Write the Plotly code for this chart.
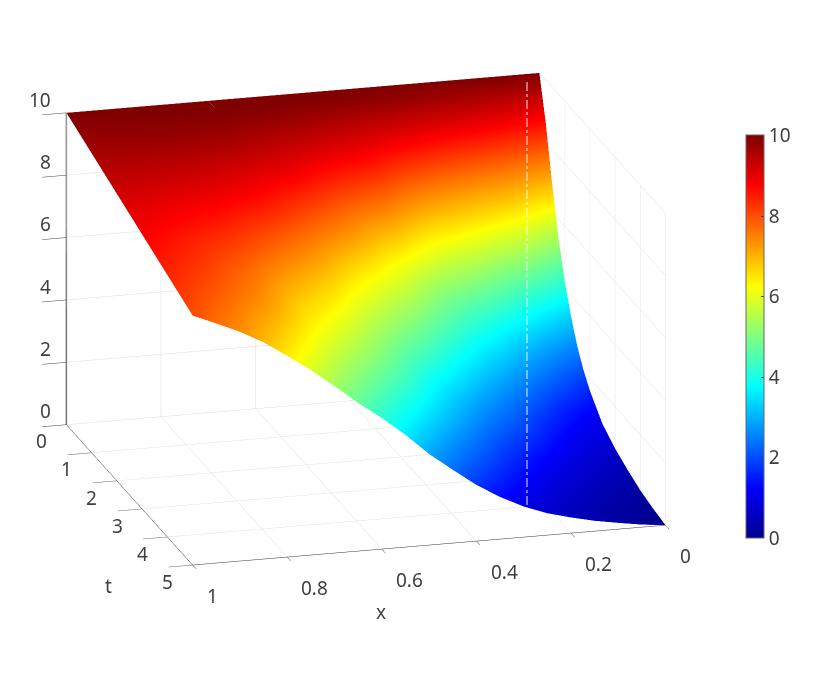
import plotly.graph_objects as go

t_vals = [0, 0.25, 0.5, 0.75, 1, 1.25, 1.5, 1.75, 2, 2.5, 3, 3.5, 4, 4.5, 5]
x_vals = [0, 0.05, 0.1, 0.15, 0.2, 0.25, 0.3, 0.35, 0.4, 0.45, 0.5, 0.55, 0.6, 0.65,
          0.7, 0.75, 0.8, 0.85, 0.9, 0.95, 1]

# u(t) at each x
u_x000 = [10, 8.65, 6.95, 5.45, 4.25, 3.35, 2.6, 2.05, 1.62, 1.0, 0.66, 0.42, 0.22, 0.09, 0]
u_x005 = [10, 9.0, 7.6, 6.3, 5.15, 4.15, 3.25, 2.62, 2.1, 1.35, 0.92, 0.62, 0.37, 0.2, 0.08]
u_x010 = [10, 9.3, 8.2, 7.05, 6.0, 4.95, 3.95, 3.25, 2.7, 1.8, 1.25, 0.85, 0.55, 0.33, 0.2]
u_x015 = [10, 9.45, 8.5, 7.4, 6.45, 5.5, 4.65, 3.95, 3.3, 2.4, 1.72, 1.25, 0.8, 0.5, 0.33]
u_x020 = [10, 9.6, 8.75, 7.7, 6.85, 6.05, 5.3, 4.6, 3.95, 3.05, 2.25, 1.7, 1.1, 0.72, 0.5]
u_x025 = [10, 9.7, 9.0, 8.1, 7.25, 6.45, 5.7, 5.05, 4.45, 3.55, 2.8, 2.15, 1.55, 1.1, 0.7]
u_x030 = [10, 9.8, 9.2, 8.5, 7.6, 6.85, 6.1, 5.5, 4.95, 4.15, 3.35, 2.65, 2.0, 1.5, 0.98]
u_x035 = [10, 9.85, 9.35, 8.8, 8.1, 7.4, 6.75, 6.15, 5.55, 4.75, 3.95, 3.2, 2.55, 1.95, 1.35]
u_x040 = [10, 9.9, 9.5, 9.05, 8.6, 8.0, 7.4, 6.75, 6.15, 5.35, 4.6, 3.75, 3.15, 2.45, 1.8]
u_x045 = [10, 9.93, 9.6, 9.25, 8.85, 8.3, 7.75, 7.2, 6.7, 5.8, 5.1, 4.35, 3.75, 3.05, 2.35]
u_x050 = [10, 9.96, 9.7, 9.4, 9.05, 8.6, 8.1, 7.65, 7.25, 6.3, 5.6, 4.95, 4.4, 3.65, 2.92]
u_x055 = [10, 9.97, 9.78, 9.5, 9.2, 8.85, 8.45, 8.05, 7.65, 6.8, 6.1, 5.5, 4.92, 4.25, 3.6]
u_x060 = [10, 9.98, 9.85, 9.6, 9.35, 9.1, 8.8, 8.4, 8.0, 7.3, 6.65, 6.05, 5.45, 4.8, 4.2]
u_x065 = [10, 9.99, 9.88, 9.68, 9.48, 9.22, 8.95, 8.65, 8.35, 7.65, 7.0, 6.45, 5.95, 5.35, 4.75]
u_x070 = [10, 10, 9.9, 9.75, 9.6, 9.35, 9.1, 8.88, 8.65, 8.0, 7.4, 6.8, 6.4, 5.9, 5.35]
u_x075 = [10, 9.99, 9.9, 9.78, 9.63, 9.42, 9.2, 9.0, 8.78, 8.25, 7.75, 7.25, 6.9, 6.4, 5.93]
u_x080 = [10, 9.98, 9.9, 9.8, 9.65, 9.48, 9.3, 9.1, 8.9, 8.5, 8.05, 7.65, 7.35, 6.9, 6.45]
u_x085 = [10, 9.97, 9.89, 9.79, 9.67, 9.51, 9.35, 9.17, 8.98, 8.62, 8.25, 7.92, 7.65, 7.28, 6.95]
u_x090 = [10, 9.95, 9.88, 9.78, 9.68, 9.53, 9.38, 9.22, 9.05, 8.75, 8.45, 8.2, 7.95, 7.65, 7.35]
u_x095 = [10, 9.93, 9.85, 9.75, 9.65, 9.53, 9.4, 9.26, 9.12, 8.88, 8.62, 8.4, 8.18, 7.92, 7.68]
u_x100 = [10, 9.9, 9.8, 9.7, 9.6, 9.5, 9.4, 9.3, 9.2, 9.0, 8.8, 8.6, 8.4, 8.2, 8.0]

u_by_x = [u_x000, u_x005, u_x010, u_x015, u_x020, u_x025, u_x030, u_x035, u_x040, u_x045,
          u_x050, u_x055, u_x060, u_x065, u_x070, u_x075, u_x080, u_x085, u_x090, u_x095, u_x100]
z_vals = [list(row) for row in zip(*u_by_x)]

x_ticks = [0, 0.2, 0.4, 0.6, 0.8, 1]
t_ticks = [0, 1, 2, 3, 4, 5]
z_ticks = [0, 2, 4, 6, 8, 10]

jet = [
    [0, "rgb(0,0,143)"],
    [0.125, "rgb(0,0,255)"],
    [0.375, "rgb(0,255,255)"],
    [0.625, "rgb(255,255,0)"],
    [0.875, "rgb(255,0,0)"],
    [1, "rgb(128,0,0)"],
]

text_font = dict(family="Noto Sans", size=19, color="#404040")

# the page body has an 8px margin, so paper positions are 8px off screen ones
PAGE_PAD = 8


def axis(ticks, rng, line_color, line_width, tick_len):
    return dict(
        title=dict(text=""),
        tickvals=ticks,
        range=rng,
        showticklabels=False,
        gridcolor="#dcdcdc",
        gridwidth=1,
        showline=True,
        linecolor=line_color,
        linewidth=line_width,
        ticks="outside",
        ticklen=tick_len,
        tickcolor="#404040",
        showbackground=False,
        zeroline=False,
        showspikes=False,
    )


def tick_label(text, x, y, z, dx, dy, anchor="center"):
    return dict(text=text, x=x, y=y, z=z, xshift=dx, yshift=-dy, showarrow=False,
                xanchor=anchor, yanchor="middle", font=text_font)


def paper_x(px):
    return (px - PAGE_PAD) / 830


def paper_y(py):
    return 1 - (py - PAGE_PAD) / 674


# tick labels sit further out than the scene axes put them, so place them here
labels = []
for v in x_ticks:
    labels.append(tick_label(f"{v:g}", v, 5, 0, 12, 31, "left"))
for v in t_ticks:
    labels.append(tick_label(f"{v:g}", 1, v, 0, -25, 17))
for v in z_ticks:
    labels.append(tick_label(f"{v:g}", 1, 0, v, -13, -13, "right"))

fig = go.Figure()
fig.add_trace(go.Surface(
    x=x_vals, y=t_vals, z=z_vals,
    colorscale=jet, cmin=0, cmax=10,
    lighting=dict(ambient=1, diffuse=0, specular=0, roughness=1, fresnel=0),
    colorbar=dict(
        x=0.889, xanchor="left", y=0.512, yanchor="middle",
        len=403 / 674, lenmode="fraction",
        thickness=18, thicknessmode="pixels",
        tickvals=z_ticks, tickfont=text_font,
        ticks="inside", ticklen=3, tickcolor="#404040",
        outlinecolor="#666666", outlinewidth=1, xpad=0, ypad=0,
    ),
))

fig.update_layout(
    width=830, height=674,
    margin=dict(l=0, r=0, t=0, b=0),
    paper_bgcolor="white",
    showlegend=False,
    scene=dict(
        domain=dict(x=[0, 0.88], y=[0.054, 1]),
        xaxis=axis(x_ticks, [0, 1], "#333333", 1, 25),
        yaxis=axis(t_ticks, [0, 5], "#333333", 1, 14),
        zaxis=axis(z_ticks, [0, 10], "#777777", 3, 9),
        aspectmode="manual",
        aspectratio=dict(x=1.538, y=1.49, z=1.027),
        camera=dict(
            projection=dict(type="orthographic"),
            center=dict(x=-0.0212, y=0.0059, z=-0.0264),
            eye=dict(x=0.2288, y=0.9139, z=0.2766),
            up=dict(x=0, y=0, z=1),
        ),
        annotations=labels,
    ),
    # light seam down the surface
    shapes=[dict(
        type="line", xref="paper", yref="paper",
        x0=paper_x(527), x1=paper_x(527), y0=paper_y(82), y1=paper_y(505),
        line=dict(color="rgba(255,255,255,0.6)", width=1.5, dash="dashdot"),
    )],
    annotations=[
        dict(text="x", x=paper_x(381), y=paper_y(612), xref="paper", yref="paper",
             xanchor="center", yanchor="middle", showarrow=False, font=text_font),
        dict(text="t", x=paper_x(108), y=paper_y(586), xref="paper", yref="paper",
             xanchor="center", yanchor="middle", showarrow=False, font=text_font),
    ],
)

fig.write_html("out.html")
